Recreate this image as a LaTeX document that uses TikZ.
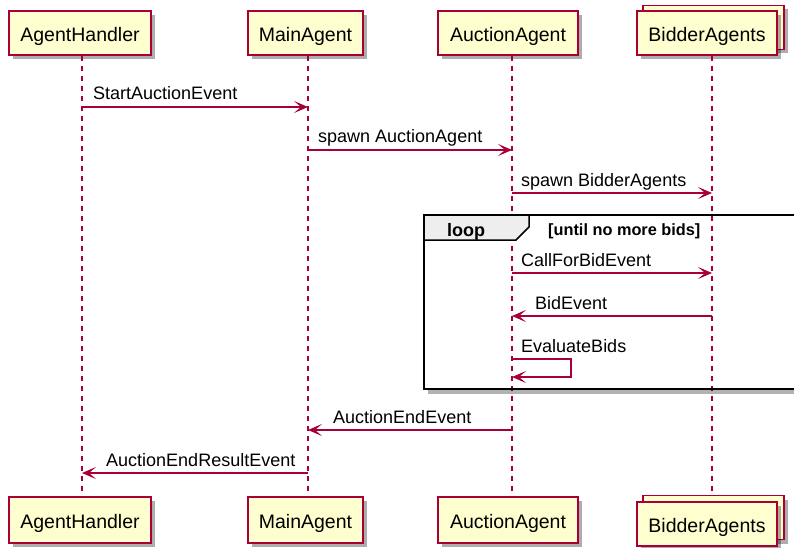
\documentclass[tikz,border=0pt]{standalone}
\usepackage{fontspec}
\setmainfont{Liberation Sans}
\usetikzlibrary{arrows.meta,shadows}
\definecolor{pborder}{HTML}{A80036}
\definecolor{pfill}{HTML}{FEFECE}
\definecolor{tabgray}{HTML}{EEEEEE}
\tikzset{
  part/.style={draw=pborder, fill=pfill, line width=1.6pt, minimum height=44pt,
    inner sep=0pt, text height=17pt, text depth=0pt,
    font=\fontsize{19.5}{23}\selectfont,
    drop shadow={shadow xshift=4pt, shadow yshift=-4pt, fill=black, opacity=0.32}},
  lifeline/.style={draw=pborder, line width=1.2pt, dash pattern=on 5pt off 5pt},
  msg/.style={draw=pborder, line width=1.4pt, -{Stealth[length=14pt,width=12pt,inset=7pt]}},
  msglabel/.style={anchor=base west, inner sep=0pt, font=\fontsize{18}{21}\selectfont},
  framebox/.style={draw=black, line width=2.6pt},
  tabbox/.style={fill=tabgray, draw=black, line width=1.5pt},
}
\begin{document}
\begin{tikzpicture}[x=1pt, y=-1pt]
\useasboundingbox (0,0) rectangle (794,548);
\clip (0,0) rectangle (794,548);
% lifeline x positions
\coordinate (la) at (82,0);
\coordinate (lm) at (308,0);
\coordinate (lu) at (512,0);
\coordinate (lb) at (712,0);
% participants top
\node[part, minimum width=142pt] (ahT) at (80,33) {AgentHandler};
\node[part, minimum width=115pt] (maT) at (305.5,33) {MainAgent};
\node[part, minimum width=140pt] (auT) at (508,33) {AuctionAgent};
\node[part, minimum width=141pt] (bdTb) at (713.5,27.5) {};
\node[part, minimum width=140pt] (bdT) at (707,33) {BidderAgents};
% participants bottom
\node[part, minimum width=142pt, minimum height=46pt] (ahB) at (80,520) {AgentHandler};
\node[part, minimum width=115pt, minimum height=46pt] (maB) at (305.5,520) {MainAgent};
\node[part, minimum width=140pt, minimum height=46pt] (auB) at (508,520) {AuctionAgent};
\node[part, minimum width=141pt] (bdBb) at (713.5,517.5) {};
\node[part, minimum width=140pt] (bdB) at (707,524) {BidderAgents};
% lifelines
\draw[lifeline] (ahT.south -| la) -- (ahB.north -| la);
\draw[lifeline] (maT.south -| lm) -- (maB.north -| lm);
\draw[lifeline] (auT.south -| lu) -- (auB.north -| lu);
\draw[lifeline] (bdT.south -| lb) -- (bdBb.north -| lb);
% loop frame
\fill[black, opacity=0.3] (428,390) rectangle (820,394);
\draw[tabbox] (424,215) -- (529,215) -- (529,227) -- (516,240) -- (424,240) -- cycle;
\draw[framebox] (424,215) rectangle (820,389);
\node[anchor=base west, inner sep=0pt, font=\bfseries\fontsize{18}{21}\selectfont] (looplbl) at (447,236) {loop};
\node[anchor=base west, inner sep=0pt, font=\bfseries\fontsize{16.3}{19}\selectfont] (loopcond) at (548,235) {[until no more bids]};
% messages
\draw[msg] (la |- 0,107) -- (lm |- 0,107);
\node[msglabel] (m1) at (93,100) {StartAuctionEvent};
\draw[msg] (lm |- 0,150) -- (lu |- 0,150);
\node[msglabel] (m2) at (318,143) {spawn AuctionAgent};
\draw[msg] (lu |- 0,193) -- (lb |- 0,193);
\node[msglabel] (m3) at (521,186) {spawn BidderAgents};
\draw[msg] (lu |- 0,273) -- (lb |- 0,273);
\node[msglabel] (m4) at (521,266) {CallForBidEvent};
\draw[msg] (lb |- 0,316) -- (lu |- 0,316);
\node[msglabel] (m5) at (535,309) {BidEvent};
\draw[msg] (lu |- 0,359) -- (571,359) -- (571,377) -- (lu |- 0,377);
\node[msglabel] (m6) at (521,352) {EvaluateBids};
\draw[msg] (lu |- 0,430) -- (lm |- 0,430);
\node[msglabel] (m7) at (333,423) {AuctionEndEvent};
\draw[msg] (lm |- 0,473) -- (la |- 0,473);
\node[msglabel] (m8) at (106,466) {AuctionEndResultEvent};
\end{tikzpicture}
\end{document}
